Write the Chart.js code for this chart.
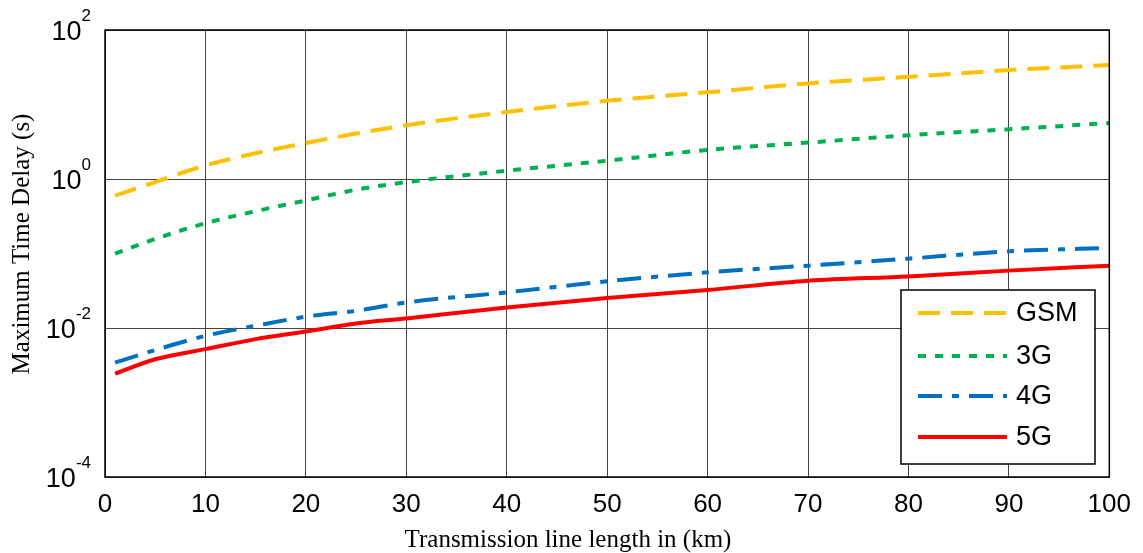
<!DOCTYPE html>
<html>
<head>
<meta charset="utf-8">
<script src="https://cdn.jsdelivr.net/npm/chart.js@4.4.1/dist/chart.umd.min.js"></script>
<style>
    html, body { margin: 0; padding: 0; background: #fff; }
    #wrap { width: 1143px; height: 553px; position: relative; }
</style>
</head>
<body>
<div id="wrap"><canvas id="delayChart"></canvas></div>
<script>
// ==================== ДАННЫЕ ====================

const lengthKm = [1, 5, 10, 15, 20, 25, 30, 40, 50, 60, 70, 80, 90, 100];
const delayGSM = [0.60, 0.91, 1.52, 2.22, 3.04, 4.07, 5.26, 7.94, 11.2, 14.6, 19.2, 23.5, 29.0, 33.8];
const delay3G  = [0.0998, 0.157, 0.255, 0.37, 0.515, 0.718, 0.908, 1.29, 1.76, 2.46, 3.08, 3.86, 4.65, 5.65];
const delay4G  = [0.00343, 0.00505, 0.00785, 0.0107, 0.0142, 0.0170, 0.0220, 0.0301, 0.0423, 0.0558, 0.0687, 0.0853, 0.107, 0.119];
const delay5G  = [0.00244, 0.00381, 0.00520, 0.00709, 0.00898, 0.0115, 0.0134, 0.0189, 0.0252, 0.0324, 0.0432, 0.0493, 0.0589, 0.0687];

const seriesNames = ['GSM', '3G', '4G', '5G'];
const xTickValues = [0, 10, 20, 30, 40, 50, 60, 70, 80, 90, 100];
const yTickValues = [1e-4, 1e-2, 1e0, 1e2];
const yTickExps = ['-4', '-2', '0', '2'];

const xTitle = 'Transmission line length in (km)';
const yTitle = 'Maximum Time Delay (s)';

// ==================== СТИЛИ ====================

const lineStyles = [
    { color: '#ffc000', dash: [22, 11] },
    { color: '#00b050', dash: [8, 9] },
    { color: '#0070c0', dash: [24, 10, 7, 10] },
    { color: '#ff0000', dash: [] }
];

const SANS = '"Liberation Sans", Arial, sans-serif';
const SERIF = '"Liberation Serif", "Times New Roman", serif';

function toPoints(values) {
    return lengthKm.map((x, i) => ({ x: x, y: values[i] }));
}

const allSeries = [delayGSM, delay3G, delay4G, delay5G];

/**
 * Рамка вокруг области графика
 */
const frameBox = {
    id: 'frameBox',
    afterDatasetsDraw(chart) {
        const { ctx, chartArea: a } = chart;
        ctx.save();
        ctx.strokeStyle = '#000';
        ctx.lineWidth = 1.5;
        ctx.strokeRect(a.left, a.top, a.right - a.left, a.bottom - a.top);
        ctx.restore();
    }
};

/**
 * Подписи оси Y вида 10^n и названия осей
 */
const axisText = {
    id: 'axisText',
    afterDraw(chart) {
        const { ctx } = chart;
        const y = chart.scales.y;
        ctx.save();
        ctx.fillStyle = '#000';
        ctx.textBaseline = 'alphabetic';
        yTickValues.forEach((v, i) => {
            const py = y.getPixelForValue(v);
            ctx.font = '17px ' + SANS;
            const supW = ctx.measureText(yTickExps[i]).width;
            ctx.font = '27px ' + SANS;
            const baseW = ctx.measureText('10').width;
            const right = 91;
            ctx.textAlign = 'left';
            ctx.fillText('10', right - supW - baseW, py + 10);
            ctx.font = '17px ' + SANS;
            ctx.fillText(yTickExps[i], right - supW, py - 9);
        });

        ctx.font = '25px ' + SERIF;
        ctx.textAlign = 'center';
        ctx.textBaseline = 'middle';
        ctx.fillText(xTitle, 568, 540);

        ctx.translate(22, 244);
        ctx.rotate(-Math.PI / 2);
        ctx.fillText(yTitle, 0, 0);
        ctx.restore();
    }
};

/**
 * Легенда в правом нижнем углу
 */
const boxLegend = {
    id: 'boxLegend',
    afterDraw(chart) {
        const { ctx } = chart;
        ctx.save();
        ctx.fillStyle = '#fff';
        ctx.fillRect(901, 290, 194, 174);
        ctx.strokeStyle = '#000';
        ctx.lineWidth = 1.5;
        ctx.strokeRect(901, 290, 194, 174);
        const rows = [313, 356, 396, 437];
        chart.data.datasets.forEach((ds, i) => {
            ctx.beginPath();
            ctx.setLineDash(ds.borderDash || []);
            ctx.strokeStyle = ds.borderColor;
            ctx.lineWidth = ds.borderWidth;
            ctx.moveTo(918, rows[i]);
            ctx.lineTo(1007, rows[i]);
            ctx.stroke();
            ctx.setLineDash([]);
            ctx.fillStyle = '#000';
            ctx.font = '27px ' + SANS;
            ctx.textAlign = 'left';
            ctx.textBaseline = 'middle';
            ctx.fillText(ds.label, 1016, rows[i] + 1);
        });
        ctx.restore();
    }
};

// ==================== ГРАФИК ====================

const ctx = document.getElementById('delayChart').getContext('2d');

new Chart(ctx, {
    type: 'line',
    data: {
        datasets: allSeries.map((values, i) => ({
            label: seriesNames[i],
            data: toPoints(values),
            borderColor: lineStyles[i].color,
            backgroundColor: lineStyles[i].color,
            borderDash: lineStyles[i].dash,
            borderWidth: 4,
            pointRadius: 0,
            cubicInterpolationMode: 'monotone',
            fill: false
        }))
    },
    options: {
        responsive: true,
        maintainAspectRatio: false,
        animation: false,
        devicePixelRatio: 1,
        layout: { padding: { left: 0, top: 30, right: 32, bottom: 0 } },
        plugins: {
            legend: { display: false },
            tooltip: { enabled: false }
        },
        scales: {
            x: {
                type: 'linear',
                min: 0,
                max: 100,
                afterBuildTicks: (scale) => { scale.ticks = xTickValues.map(v => ({ value: v })); },
                afterFit: (scale) => { scale.height = 76; },
                grid: { color: '#444', lineWidth: 1, drawTicks: false },
                border: { display: false },
                ticks: {
                    color: '#000',
                    padding: 12,
                    maxRotation: 0,
                    font: { family: SANS, size: 26 }
                }
            },
            y: {
                type: 'logarithmic',
                min: 1e-4,
                max: 1e2,
                afterBuildTicks: (scale) => { scale.ticks = yTickValues.map(v => ({ value: v })); },
                afterFit: (scale) => { scale.width = 105; },
                grid: { color: '#444', lineWidth: 1, drawTicks: false },
                border: { display: false },
                ticks: { display: false }
            }
        }
    },
    plugins: [frameBox, axisText, boxLegend]
});
</script>
</body>
</html>
